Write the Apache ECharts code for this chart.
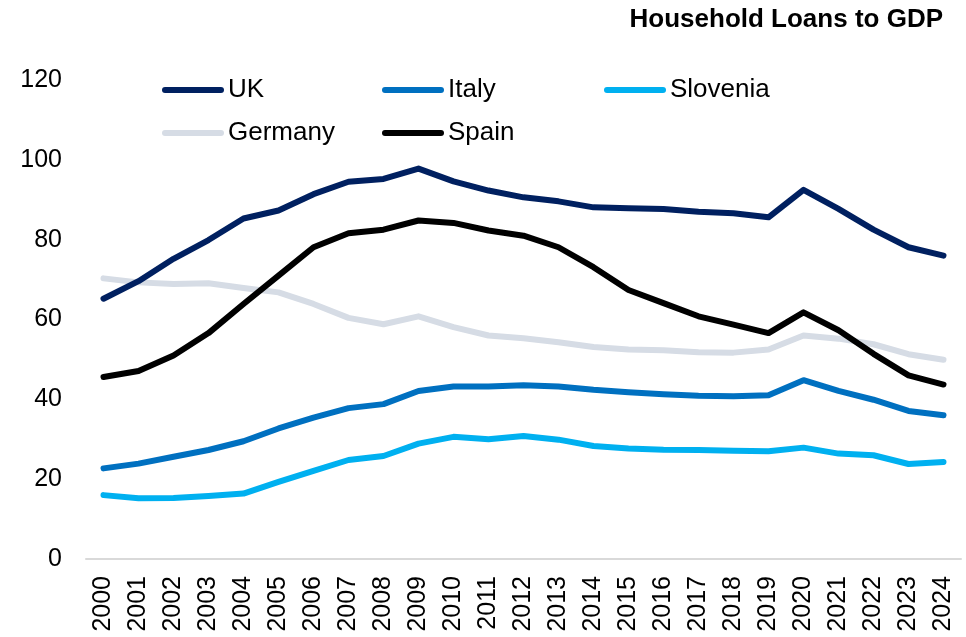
<!DOCTYPE html>
<html>
<head>
<meta charset="utf-8">
<script src="https://cdn.jsdelivr.net/npm/echarts@6/dist/echarts.min.js"></script>
<style>
  html, body { margin: 0; padding: 0; background: #fff; }
  #main { width: 966px; height: 637px; }
</style>
</head>
<body>
<div id="main"></div>
<script>
// years on the x axis
let years = ["2000","2001","2002","2003","2004","2005","2006","2007","2008","2009","2010","2011","2012",
  "2013","2014","2015","2016","2017","2018","2019","2020","2021","2022","2023","2024"]
// household loans, % of GDP
let uk = [65.2,69.6,75.2,79.9,85.3,87.3,91.4,94.5,95.2,97.8,94.6,92.3,90.6,89.6,88.1,87.9,87.7,87.0,86.6,85.6,92.5,87.7,82.5,78.1,76.0]
let italy = [22.7,23.9,25.6,27.3,29.5,32.7,35.4,37.8,38.8,42.1,43.2,43.2,43.5,43.2,42.4,41.8,41.3,40.9,40.8,41.0,44.8,42.1,39.9,37.1,36.0]
let slovenia = [16.0,15.2,15.3,15.8,16.4,19.3,22.1,24.8,25.8,28.9,30.6,30.0,30.8,29.9,28.3,27.7,27.4,27.3,27.1,27.0,27.9,26.4,26.0,23.8,24.3]
let germany = [70.3,69.3,68.9,69.1,67.9,66.8,63.9,60.4,58.8,60.8,58.1,56.0,55.3,54.3,53.1,52.5,52.3,51.8,51.7,52.5,56.0,55.2,53.8,51.3,49.9]
let spain = [45.6,47.1,51.0,56.6,63.9,71.0,78.1,81.6,82.5,84.8,84.2,82.3,81.0,78.1,73.1,67.4,64.1,60.8,58.7,56.6,61.8,57.3,51.4,46.0,43.7]
let yTicks = [0,20,40,60,80,100,120]

let font = "Liberation Sans, Arial, sans-serif"
// pill shaped legend marker
let pill = "path://M3,0 L59,0 A3,3 0 0 1 59,6 L3,6 A3,3 0 0 1 3,0 Z"

function mkSeries(name, data, color, z){
  return {
    name: name,
    type: "line",
    data: data,
    symbol: "none",
    z: z,
    color: color,
    lineStyle: { width: 6, color: color, cap: "round", join: "round" }
  }
}

function mkLegend(name, left, top){
  return {
    data: [name],
    left: left,
    top: top,
    padding: 0,
    icon: pill,
    itemWidth: 62,
    itemHeight: 6,
    itemGap: 0,
    selectedMode: false,
    textStyle: { fontFamily: font, fontSize: 26, color: "#000", padding: [0,0,0,-1] }
  }
}

let myChart = echarts.init(document.getElementById("main"))
let option = {
  animation: false,
  backgroundColor: "#fff",
  title: {
    text: "Household Loans to GDP",
    right: 23,
    top: 7,
    padding: 0,
    textStyle: { fontFamily: font, fontSize: 26, fontWeight: "bold", color: "#000" }
  },
  legend: [
    mkLegend("UK", 162, 77),
    mkLegend("Italy", 382, 77),
    mkLegend("Slovenia", 604, 77),
    mkLegend("Germany", 162, 120),
    mkLegend("Spain", 382, 120)
  ],
  grid: { left: 86, right: 5, top: 80, bottom: 78 },
  xAxis: {
    type: "category",
    data: years,
    boundaryGap: true,
    axisLine: { lineStyle: { color: "#D9D9D9", width: 2 } },
    axisTick: { show: false },
    axisLabel: { rotate: 90, interval: 0, margin: 17, fontFamily: font, fontSize: 25, color: "#000" }
  },
  yAxis: {
    type: "value",
    min: yTicks[0],
    max: yTicks[yTicks.length - 1],
    interval: 20,
    splitLine: { show: false },
    axisLine: { show: false },
    axisTick: { show: false },
    axisLabel: { margin: 24, fontFamily: font, fontSize: 25, color: "#000" }
  },
  series: [
    mkSeries("Germany", germany, "#D6DCE5", 1),
    mkSeries("Slovenia", slovenia, "#00B0F0", 2),
    mkSeries("Italy", italy, "#0070C0", 2),
    mkSeries("UK", uk, "#002060", 2),
    mkSeries("Spain", spain, "#000000", 3)
  ]
}
myChart.setOption(option)
</script>
</body>
</html>
